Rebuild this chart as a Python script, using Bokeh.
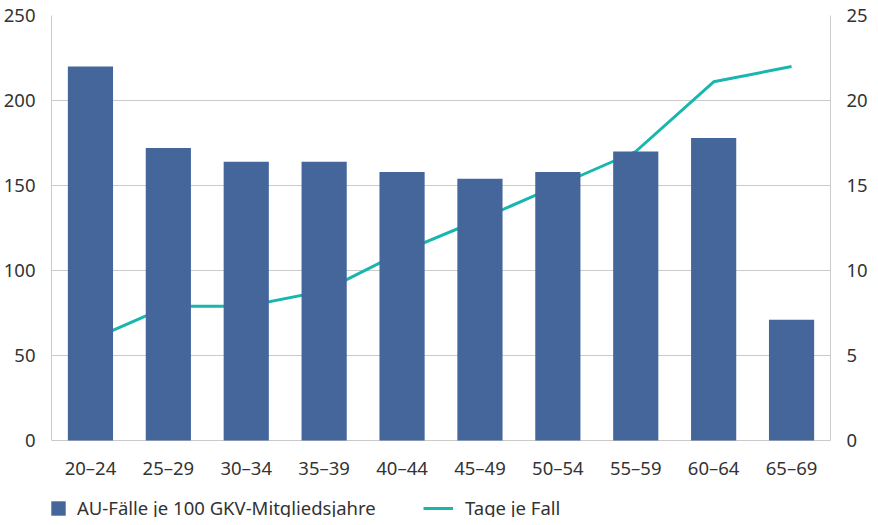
from bokeh.plotting import figure
from bokeh.models import (Range1d, LinearAxis, FixedTicker, Legend, LegendItem,
                          FactorRange, ColumnDataSource)
from bokeh.core.properties import value
from bokeh.embed import file_html
from bokeh.resources import INLINE

categories = ["20–24", "25–29", "30–34", "35–39", "40–44",
              "45–49", "50–54", "55–59", "60–64", "65–69"]
au_faelle = [220, 172, 164, 164, 158, 154, 158, 170, 178, 71]
tage_je_fall = [5.9, 7.9, 7.9, 8.8, 11.1, 13.0, 15.0, 17.0, 21.1, 22.0]
left_ticks = [0, 50, 100, 150, 200, 250]
right_ticks = [0, 5, 10, 15, 20, 25]

BAR = "#45669b"
LINE = "#17b6ae"
GRID = "#cacaca"
TXT = "#333333"
FONT = "Noto Sans"
FS = "18.5px"

src = ColumnDataSource(dict(cat=categories, au=au_faelle, tage=tage_je_fall))

W, H = 870, 517
FL, FT, FW = 44, 15, 794
PLOT_H = 425                 # pixels from value 0 to value 250
BELOW = H - FT - PLOT_H      # room under the zero line (labels + legend)
ymax_l, ymax_r = 250, 25
ymin_l = -BELOW * ymax_l / PLOT_H
ymin_r = -BELOW * ymax_r / PLOT_H

p = figure(width=W, height=H, x_range=FactorRange(*categories, range_padding=0),
           y_range=Range1d(ymin_l, ymax_l), output_backend="svg", toolbar_location=None,
           min_border_left=FL, min_border_top=FT,
           min_border_right=W - FL - FW, min_border_bottom=0)
p.extra_y_ranges = {"right": Range1d(ymin_r, ymax_r)}

p.outline_line_color = None
p.xgrid.grid_line_color = None
p.ygrid.grid_line_color = GRID
p.ygrid.ticker = FixedTicker(ticks=left_ticks)

ln = p.line("cat", "tage", source=src, y_range_name="right",
            line_color=LINE, line_width=3)
br = p.vbar(x="cat", top="au", source=src, width=0.58,
            fill_color=BAR, line_color=None)

p.yaxis[0].ticker = FixedTicker(ticks=left_ticks)
p.yaxis[0].bounds = (0, ymax_l)
ax_r = LinearAxis(y_range_name="right", ticker=FixedTicker(ticks=right_ticks),
                  bounds=(0, ymax_r))
p.add_layout(ax_r, "right")

for ax in p.axis:
    ax.axis_line_color = GRID
    ax.major_tick_line_color = None
    ax.minor_tick_line_color = None
    ax.major_label_text_font = FONT
    ax.major_label_text_font_size = FS
    ax.major_label_text_color = TXT
    ax.major_label_standoff = 10
p.xaxis.axis_line_color = None
p.xaxis.fixed_location = 0
p.xaxis.major_label_standoff = 8

leg1 = Legend(items=[LegendItem(label=value("AU-Fälle je 100 GKV-Mitgliedsjahre"), renderers=[br])],
              location=(-2, -3), glyph_width=18, glyph_height=18, label_standoff=10)
leg2 = Legend(items=[LegendItem(label=value("Tage je Fall"), renderers=[ln])],
              location=(372, -3), glyph_width=30, glyph_height=18, label_standoff=12)
for lg in (leg1, leg2):
    lg.padding = 0
    lg.margin = 0
    lg.border_line_color = None
    lg.background_fill_alpha = 0
    lg.label_text_font = FONT
    lg.label_text_font_size = FS
    lg.label_text_color = TXT
    p.add_layout(lg, "center")

open("out.html", "w").write(file_html(p, INLINE))
